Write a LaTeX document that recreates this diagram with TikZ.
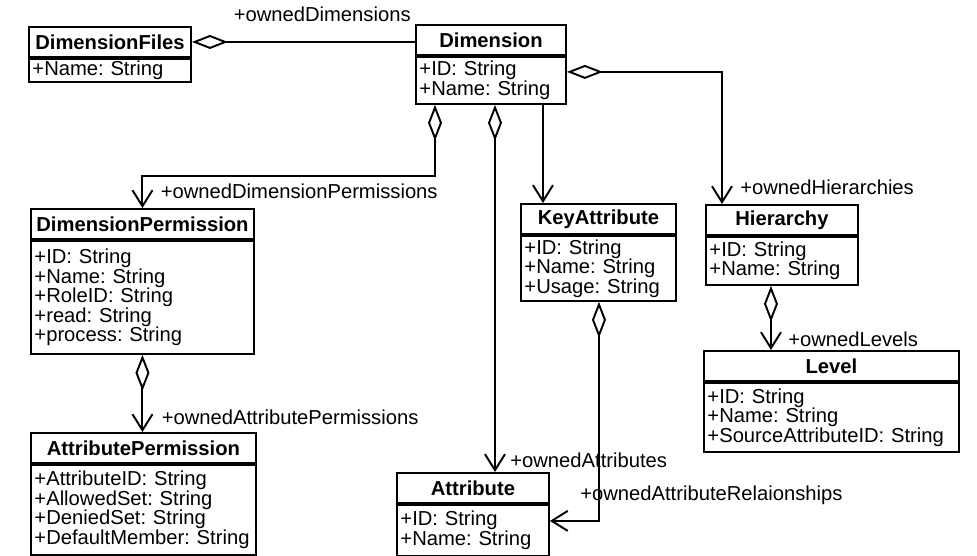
\documentclass[tikz,border=0pt]{standalone}
\usepackage{fontspec}
\setmainfont{Liberation Sans}
\usetikzlibrary{arrows.meta,positioning}
\newcommand{\diagfont}{\fontsize{11.5}{11.1}\selectfont\frenchspacing}
\tikzset{
  head/.style={draw, line width=1.1pt, anchor=north west, font=\diagfont\bfseries,
    inner sep=0pt, minimum height=0.6cm, minimum width=#1+4pt},
  body/.style={draw, line width=1.1pt, anchor=north west, font=\diagfont,
    inner xsep=2pt, inner ysep=1pt, align=left, text width=#1},
  role/.style={font=\diagfont, inner sep=0pt, anchor=base west},
  aggr/.style={line width=1.1pt, {Diamond[open,length=0.72cm,width=0.28cm]}-},
  aggrnav/.style={line width=1.1pt, {Diamond[open,length=0.72cm,width=0.28cm]}-{Straight Barb[length=0.32cm,width=0.4cm]}},
  nav/.style={line width=1.1pt, -{Straight Barb[length=0.32cm,width=0.4cm]}}
}
\begin{document}
\begin{tikzpicture}[x=0.02cm, y=-0.02cm]
\useasboundingbox (0,0) rectangle (977,555);

% Classes
\node[head=3.10cm] (files) at (28,26) {DimensionFiles};
\node[body=3.10cm, minimum height=0.46cm] (filesbody) at (files.south west) {+Name: String};

\node[head=2.86cm] (dim) at (415,24) {Dimension};
\node[body=2.86cm, minimum height=0.94cm] (dimbody) at (dim.south west) {+ID: String\\+Name: String};

\node[head=4.32cm] (dperm) at (30,208) {DimensionPermission};
\node[body=4.32cm, minimum height=2.26cm] (dpermbody) at (dperm.south west)
  {+ID: String\\+Name: String\\+RoleID: String\\+read: String\\+process: String};

\node[head=4.36cm] (aperm) at (30,432) {AttributePermission};
\node[body=4.36cm, minimum height=1.80cm] (apermbody) at (aperm.south west)
  {+AttributeID: String\\+AllowedSet: String\\+DeniedSet: String\\+DefaultMember:~String};

\node[head=2.96cm] (keyattr) at (520,203) {KeyAttribute};
\node[body=2.96cm, minimum height=1.30cm] (keyattrbody) at (keyattr.south west)
  {+ID: String\\+Name: String\\+Usage: String};

\node[head=2.90cm] (attr) at (396,472) {Attribute};
\node[body=2.90cm, minimum height=1.02cm] (attrbody) at (attr.south west) {+ID: String\\+Name: String};

\node[head=2.90cm] (hier) at (705,204) {Hierarchy};
\node[body=2.90cm, minimum height=0.96cm] (hierbody) at (hier.south west) {+ID: String\\+Name: String};

\node[head=4.96cm] (level) at (703,350) {Level};
\node[body=4.96cm, minimum height=1.38cm] (levelbody) at (level.south west)
  {+ID: String\\+Name: String\\+SourceAttributeID:~String};

% Associations
\draw[aggr] (files.east) -- (files.east -| dim.west);
\draw[aggrnav] ([yshift=0.17cm]dimbody.east) -| ([xshift=0.34cm]hier.north west);
\draw[aggrnav] ([xshift=0.4cm]dimbody.south west) -- ++(0,-1.42cm) -| (dperm.north);
\draw[aggrnav] ([xshift=1.6cm]dimbody.south west) -- ([xshift=1.6cm]dimbody.south west |- attr.north);
\draw[nav] ([xshift=2.56cm]dimbody.south west) -- ([xshift=2.56cm]dimbody.south west |- keyattr.north);
\draw[aggrnav] ([xshift=0.01cm]keyattrbody.south) |- ([yshift=0.19cm]attrbody.east);
\draw[aggrnav] (dpermbody.south) -- (dpermbody.south |- aperm.north);
\draw[aggrnav] ([xshift=-0.22cm]hierbody.south) -- ([xshift=-0.22cm]hierbody.south |- level.north);

% Role names
\node[role, anchor=base east] (lbldims) at ([xshift=-0.08cm, yshift=0.05cm]dim.north west) {+ownedDimensions};
\node[role] (lblhier) at ([xshift=0.7cm, yshift=0.2cm]hier.north west) {+ownedHierarchies};
\node[role] (lbldperm) at ([xshift=0.36cm, yshift=0.2cm]dperm.north) {+ownedDimensionPermissions};
\node[role] (lblattr) at ([xshift=2.28cm, yshift=0.1cm]attr.north west) {+ownedAttributes};
\node[role] (lblrel) at ([xshift=0.6cm, yshift=0.06cm]attrbody.north east) {+ownedAttributeRelaionships};
\node[role] (lblaperm) at ([xshift=0.36cm, yshift=0.16cm]aperm.north) {+ownedAttributePermissions};
\node[role] (lbllevel) at ([xshift=1.7cm, yshift=0.08cm]level.north west) {+ownedLevels};

\end{tikzpicture}
\end{document}
